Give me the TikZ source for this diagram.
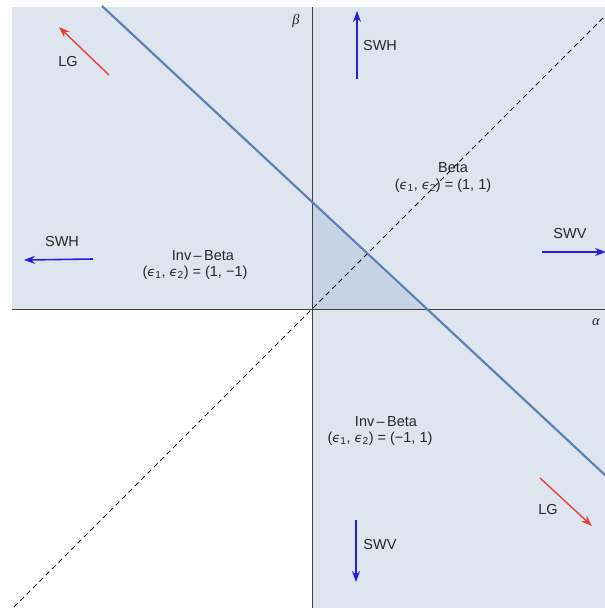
\documentclass[tikz,border=0pt]{standalone}
\usepackage{fontspec}
\setmainfont{Liberation Sans}
\newfontfamily\grsans{DejaVu Sans}
\newfontfamily\grserif{Liberation Serif}
\usetikzlibrary{arrows.meta}
\definecolor{regfill}{HTML}{DEE5EF}
\definecolor{trifill}{HTML}{C6D3E4}
\definecolor{bline}{HTML}{5E81B5}
\definecolor{redarr}{HTML}{E0423A}
\definecolor{bluearr}{HTML}{2A1BE0}
\definecolor{axisc}{HTML}{404040}
\newcommand{\eps}[1]{{\grsans\itshape\fontsize{13}{15}\selectfont ϵ}\textsubscript{#1}}
\tikzset{
  lbl/.style={font=\fontsize{14.5}{17}\selectfont, text=black!85, inner sep=1pt, align=center},
  redarrow/.style={draw=redarr, line width=1.4pt, -{Stealth[length=11pt,width=8pt]}},
  bluearrow/.style={draw=bluearr, line width=1.6pt, -{Stealth[length=11pt,width=8pt]}},
  axisline/.style={draw=axisc, line width=0.8pt},
}
\begin{document}
\begin{tikzpicture}[x=1pt,y=-1pt]
\useasboundingbox (0,0) rectangle (605,608);
% regions
\fill[regfill] (12,7) rectangle (312,309);
\fill[regfill] (312,7) rectangle (605,309);
\fill[regfill] (312,309) rectangle (605,608);
\fill[trifill] (312,309) -- (312,204) -- (424,309) -- cycle;
% axes
\draw[axisline] (12,309) -- (605,309);
\draw[axisline] (312,7) -- (312,608);
% dashed diagonal
\draw[black, line width=0.9pt, dash pattern=on 5pt off 4pt] (14,607) -- (604,17);
% blue line
\draw[bline, line width=2.2pt] (102,6) -- (605,475);
% axis labels
\node[lbl] (beta) at (296,21) {\grserif\itshape β};
\node[lbl] (alpha) at (596,322) {\grserif\itshape α};
% arrows
\coordinate (lg1s) at (109,75); \coordinate (lg1e) at (59,27);
\draw[redarrow] (lg1s) -- (lg1e);
\node[lbl] (lg1) at (68,62) {LG};
\coordinate (swh1s) at (357,79); \coordinate (swh1e) at (357,11);
\draw[bluearrow] (swh1s) -- (swh1e);
\node[lbl] (swh1) at (380,46) {SWH};
\coordinate (swv1s) at (542,252); \coordinate (swv1e) at (606,252);
\draw[bluearrow] (swv1s) -- (swv1e);
\node[lbl] (swv1) at (570,234) {SWV};
\coordinate (swh2s) at (93,259); \coordinate (swh2e) at (24,260);
\draw[bluearrow] (swh2s) -- (swh2e);
\node[lbl] (swh2) at (62,242) {SWH};
\coordinate (lg2s) at (540,478); \coordinate (lg2e) at (592,526);
\draw[redarrow] (lg2s) -- (lg2e);
\node[lbl] (lg2) at (548,510) {LG};
\coordinate (swv2s) at (356,520); \coordinate (swv2e) at (356,582);
\draw[bluearrow] (swv2s) -- (swv2e);
\node[lbl] (swv2) at (380,545) {SWV};
% region labels
\node[lbl] (beta1) at (453,168) {Beta};
\node[lbl] (beta2) at (443,186) {(\eps{1}, \eps{2}) = (1, 1)};
\node[lbl] (ib1) at (203,256) {Inv\,–\,Beta};
\node[lbl] (ib2) at (195,273) {(\eps{1}, \eps{2}) = (1, −1)};
\node[lbl] (ib3) at (386,422) {Inv\,–\,Beta};
\node[lbl] (ib4) at (380,439) {(\eps{1}, \eps{2}) = (−1, 1)};
\end{tikzpicture}
\end{document}
